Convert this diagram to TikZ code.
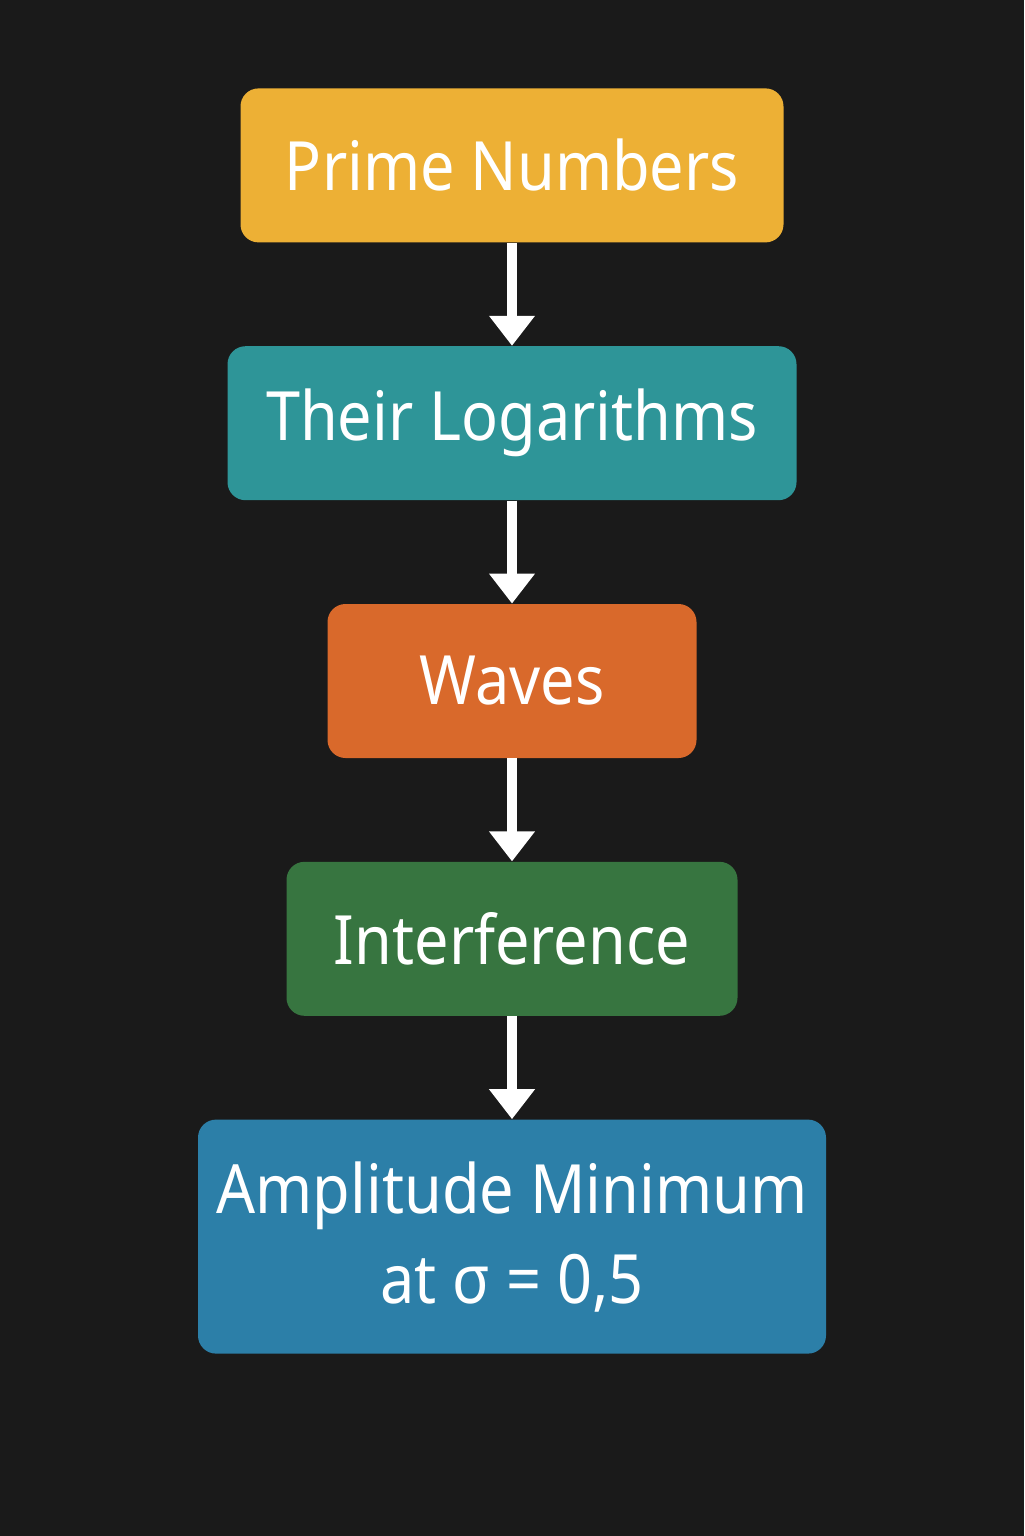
\documentclass[tikz,border=0pt]{standalone}
\usepackage{fontspec}
\setmainfont[FakeStretch=0.9]{Noto Sans}
\usepackage{tikz}
\usetikzlibrary{arrows.meta,positioning}
\definecolor{BgDark}{HTML}{1A1A1A}
\definecolor{PrimeYellow}{HTML}{EDB035}
\definecolor{LogTeal}{HTML}{2E9598}
\definecolor{WaveOrange}{HTML}{D9692B}
\definecolor{InterGreen}{HTML}{377540}
\definecolor{AmpBlue}{HTML}{2C7FA8}
\tikzset{
	stepbox/.style={
		rounded corners=9pt, minimum height=77pt, inner sep=0pt,
		text=white, font=\fontsize{34}{45}\selectfont, align=center},
	flow/.style={
		draw=white, line width=5pt, -{Triangle[width=22pt,length=15pt]}}
}

\begin{document}
\begin{tikzpicture}[node distance=51.5pt]
			\fill[BgDark] (0,0) rectangle (512pt,-768pt);
			\useasboundingbox (0,0) rectangle (512pt,-768pt);
			\node[stepbox,fill=PrimeYellow,minimum width=271.5pt,anchor=north] (prime) at (256pt,-44pt) {Prime Numbers};
			\node[stepbox,fill=LogTeal,minimum width=284.5pt,below=of prime] (logs) {Their Logarithms};
			\node[stepbox,fill=WaveOrange,minimum width=184.5pt,below=of logs] (waves) {Waves};
			\node[stepbox,fill=InterGreen,minimum width=225.5pt,below=of waves] (inter) {Interference};
			\node[stepbox,fill=AmpBlue,minimum width=314pt,minimum height=117pt,below=of inter] (amp) {Amplitude Minimum\\at σ = 0,5};
			\draw[flow] (prime) -- (logs);
			\draw[flow] (logs) -- (waves);
			\draw[flow] (waves) -- (inter);
			\draw[flow] (inter) -- (amp);
			\end{tikzpicture}
\end{document}
